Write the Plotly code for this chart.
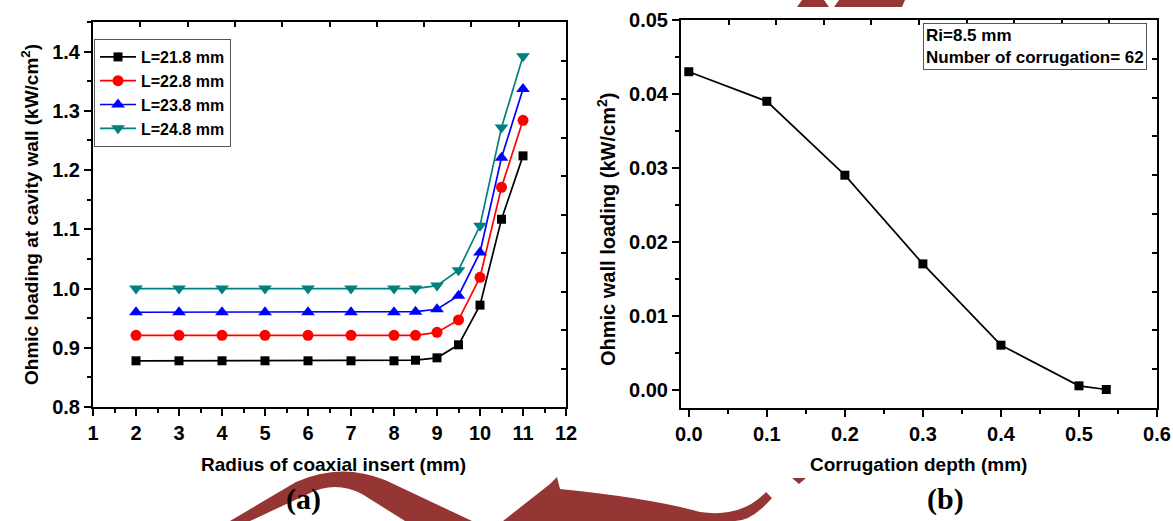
import plotly.graph_objects as go

W, H = 1173, 521

# ---------------- data ----------------
radius = [2, 3, 4, 5, 6, 7, 8, 8.5, 9, 9.5, 10, 10.5, 11]
load_L218 = [0.878, 0.878, 0.878, 0.878, 0.878, 0.878, 0.878, 0.879, 0.883, 0.905, 0.972, 1.117, 1.224]
load_L228 = [0.921, 0.921, 0.921, 0.921, 0.921, 0.921, 0.921, 0.921, 0.926, 0.947, 1.019, 1.171, 1.284]
load_L238 = [0.960, 0.960, 0.960, 0.960, 0.960, 0.960, 0.960, 0.961, 0.965, 0.988, 1.061, 1.221, 1.337]
load_L248 = [1.000, 1.000, 1.000, 1.000, 1.000, 1.000, 1.000, 1.000, 1.005, 1.031, 1.106, 1.272, 1.392]
series_names = ["L=21.8 mm", "L=22.8 mm", "L=23.8 mm", "L=24.8 mm"]

depth = [0.0, 0.1, 0.2, 0.3, 0.4, 0.5, 0.535]
wall_load = [0.043, 0.039, 0.029, 0.017, 0.006, 0.0005, 0.0]

left_xticks = [1, 2, 3, 4, 5, 6, 7, 8, 9, 10, 11, 12]
left_yticks = [0.8, 0.9, 1.0, 1.1, 1.2, 1.3, 1.4]
right_xticks = [0.0, 0.1, 0.2, 0.3, 0.4, 0.5, 0.6]
right_yticks = [0.00, 0.01, 0.02, 0.03, 0.04, 0.05]

# ---------------- helpers ----------------
def px(x):
    return x / W

def py(y):
    return 1 - y / H

FONT = "Liberation Sans"
RED = "#963634"

L_dom_x = [px(93), px(566)]
L_dom_y = [py(407), py(22)]
R_dom_x = [px(681), px(1157)]
R_dom_y = [py(408), py(20)]

fig = go.Figure()

styles = [
    ("black", "square", 9),
    ("#ff0000", "circle", 11),
    ("#0000ff", "triangle-up", 12),
    ("#008080", "triangle-down", 12),
]
for name, ys, (col, sym, ms) in zip(series_names, [load_L218, load_L228, load_L238, load_L248], styles):
    fig.add_trace(go.Scatter(
        x=radius, y=ys, name=name, mode="lines+markers",
        line=dict(color=col, width=1.7),
        marker=dict(color=col, symbol=sym, size=ms),
        xaxis="x", yaxis="y",
    ))

fig.add_trace(go.Scatter(
    x=depth, y=wall_load, mode="lines+markers", showlegend=False,
    line=dict(color="black", width=1.7),
    marker=dict(color="black", symbol="square", size=9),
    xaxis="x2", yaxis="y2",
))

for xa, ya in [("x3", "y3"), ("x4", "y4")]:
    fig.add_trace(go.Scatter(x=[], y=[], xaxis=xa, yaxis=ya, showlegend=False, hoverinfo="skip"))

tickfont = dict(family=FONT, size=20, color="black", weight="bold")

def main_axis(dom, rng, tickvals, fmt, dminor, anchor):
    return dict(
        domain=dom, range=rng, tickvals=tickvals, tickformat=fmt,
        ticks="outside", ticklen=7, tickwidth=1.5, tickcolor="black",
        minor=dict(ticks="outside", ticklen=4, tickwidth=1.5, tickcolor="black", dtick=dminor),
        showline=True, linecolor="black", linewidth=2,
        showgrid=False, zeroline=False, tickfont=tickfont, anchor=anchor,
        automargin=False,
    )

def frame_axis(overlay, side, anchor):
    return dict(
        overlaying=overlay, side=side, anchor=anchor, range=[0, 10], dtick=1,
        ticks="inside", ticklen=5, tickwidth=1.5, tickcolor="black",
        showticklabels=False, showline=True, linecolor="black", linewidth=2,
        showgrid=False, zeroline=False, automargin=False,
    )

fig.update_layout(
    width=W, height=H,
    margin=dict(l=0, r=0, t=0, b=0, pad=0, autoexpand=False),
    paper_bgcolor="white", plot_bgcolor="white",
    xaxis=main_axis(L_dom_x, [1, 12], left_xticks, "d", 0.5, "y"),
    yaxis=main_axis(L_dom_y, [0.8, 1.45], left_yticks, ".1f", 0.05, "x"),
    xaxis2=main_axis(R_dom_x, [-0.01, 0.6], right_xticks, ".1f", 0.05, "y2"),
    yaxis2=main_axis(R_dom_y, [-0.0025, 0.05], right_yticks, ".2f", 0.005, "x2"),
    xaxis3=frame_axis("x", "top", "y3"),
    yaxis3=frame_axis("y", "right", "x3"),
    xaxis4=frame_axis("x2", "top", "y4"),
    yaxis4=frame_axis("y2", "right", "x4"),
    legend=dict(
        x=px(94), y=py(39), xanchor="left", yanchor="top",
        bgcolor="white", bordercolor="#555555", borderwidth=1,
        font=dict(family=FONT, size=16, color="black", weight="bold"),
        tracegroupgap=0, itemwidth=36,
    ),
    showlegend=True,
)

title_font = dict(family=FONT, size=19, color="black", weight="bold")
label_font = dict(family="Liberation Serif", size=30, color="black", weight="bold")
annotations = [
    dict(text="Ohmic loading at cavity wall (kW/cm<sup>2</sup>)", x=px(30), y=py(215),
         textangle=-90, font=title_font),
    dict(text="Radius of coaxial insert (mm)", x=px(333), y=py(464), font=title_font),
    dict(text="Ohmic wall loading (kW/cm<sup>2</sup>)", x=px(606), y=py(230),
         textangle=-90, font=dict(family=FONT, size=20, color="black", weight="bold")),
    dict(text="Corrugation depth (mm)", x=px(918), y=py(464), font=title_font),
    dict(text="(a)", x=px(303), y=py(499), font=label_font),
    dict(text="(b)", x=px(945), y=py(499), font=label_font),
    dict(text="Ri=8.5 mm<br>Number of corrugation= 62", x=px(923), y=py(23),
         xanchor="left", yanchor="top", align="left",
         bordercolor="#555555", borderwidth=1, borderpad=2, bgcolor="white",
         font=dict(family=FONT, size=17, color="black", weight="bold")),
]
for a in annotations:
    a.setdefault("xanchor", "center")
    a.setdefault("yanchor", "middle")
    a.update(xref="paper", yref="paper", showarrow=False)
fig.update_layout(annotations=annotations)

# ---------------- decorative watermark (pixel paths -> paper) ----------------
def path_px(cmds):
    out = []
    for c in cmds:
        if isinstance(c, str):
            out.append(c)
        else:
            out.append(f"{px(c[0]):.5f},{py(c[1]):.5f}")
    return " ".join(out)

wm_paths = [
    ["M", (230, 521), "L", (296, 482), "Q", (340, 462), (385, 480), "L", (472, 521),
     "L", (405, 521), "L", (362, 494), "Q", (335, 480), (308, 494), "L", (250, 521), "Z"],
    ["M", (503, 521), "L", (550, 484), "L", (557, 477), "L", (560, 489),
     "Q", (650, 498), (700, 512), "Q", (742, 518), (766, 492), "L", (772, 498),
     "Q", (752, 521), (735, 521), "Z"],
    ["M", (792, 478), "L", (806, 478), "L", (799, 484), "Z"],
    ["M", (797, 7), "L", (802, 0), "L", (824, 0), "L", (829, 7), "Z"],
    ["M", (834, 7), "L", (839, 0), "L", (905, 0), "L", (902, 7), "Z"],
]
shapes = []
for p in wm_paths:
    shapes.append(dict(type="path", xref="paper", yref="paper", path=path_px(p),
                       fillcolor=RED, line=dict(width=0), layer="above"))
fig.update_layout(shapes=shapes)

fig.write_html("out.html", config={"displayModeBar": False},
               post_script="document.body.style.margin='0px';")
